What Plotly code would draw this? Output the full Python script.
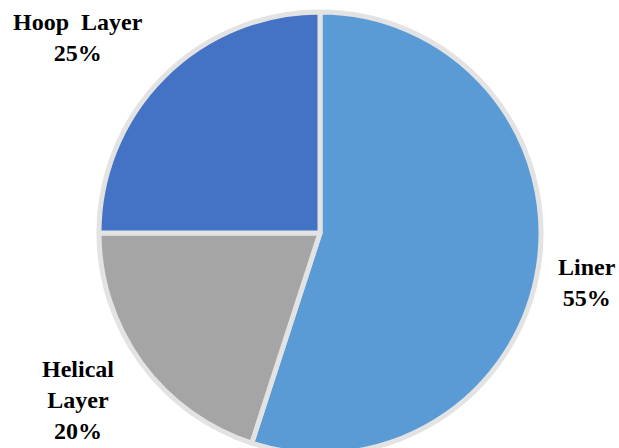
import plotly.graph_objects as go

# Composition shares of the vessel wall
components = ["Liner", "Helical Layer", "Hoop Layer"]
label_lines = ["Liner", "Helical<br>Layer", "Hoop\u00a0\u00a0Layer"]
shares = [55, 20, 25]
colors = ["#5B9BD5", "#A5A5A5", "#4472C4"]

W, H = 619, 462  # canvas slightly taller than the window so the pie runs off the bottom

def px_x(x):
    return x / W

def px_y(y):
    return (H - y) / H

cx, cy, r = 320, 233, 221

fig = go.Figure(
    go.Pie(
        labels=components,
        values=shares,
        sort=False,
        direction="clockwise",
        rotation=0,
        marker=dict(colors=colors, line=dict(color="#E3E3E3", width=5)),
        textinfo="none",
        hoverinfo="label+percent",
        showlegend=False,
        domain=dict(x=[px_x(cx - r), px_x(cx + r)], y=[px_y(cy + r), px_y(cy - r)]),
    )
)

# Outside labels: name and share
label_pos = {
    "Liner": (587, 282),
    "Helical Layer": (78, 400),
    "Hoop Layer": (78, 37),
}
for name, text, val in zip(components, label_lines, shares):
    x, y = label_pos[name]
    fig.add_annotation(
        x=px_x(x), y=px_y(y), xref="paper", yref="paper",
        text=f"<b>{text}<br>{val}%</b>",
        showarrow=False, xanchor="center", yanchor="middle",
        font=dict(family="Liberation Serif", size=24, color="#000000"),
    )

fig.update_layout(
    width=W, height=H,
    margin=dict(l=0, r=0, t=0, b=0),
    paper_bgcolor="white", plot_bgcolor="white",
)

fig.write_html("out.html", post_script="document.body.style.overflow='hidden';document.body.style.margin='0';")
